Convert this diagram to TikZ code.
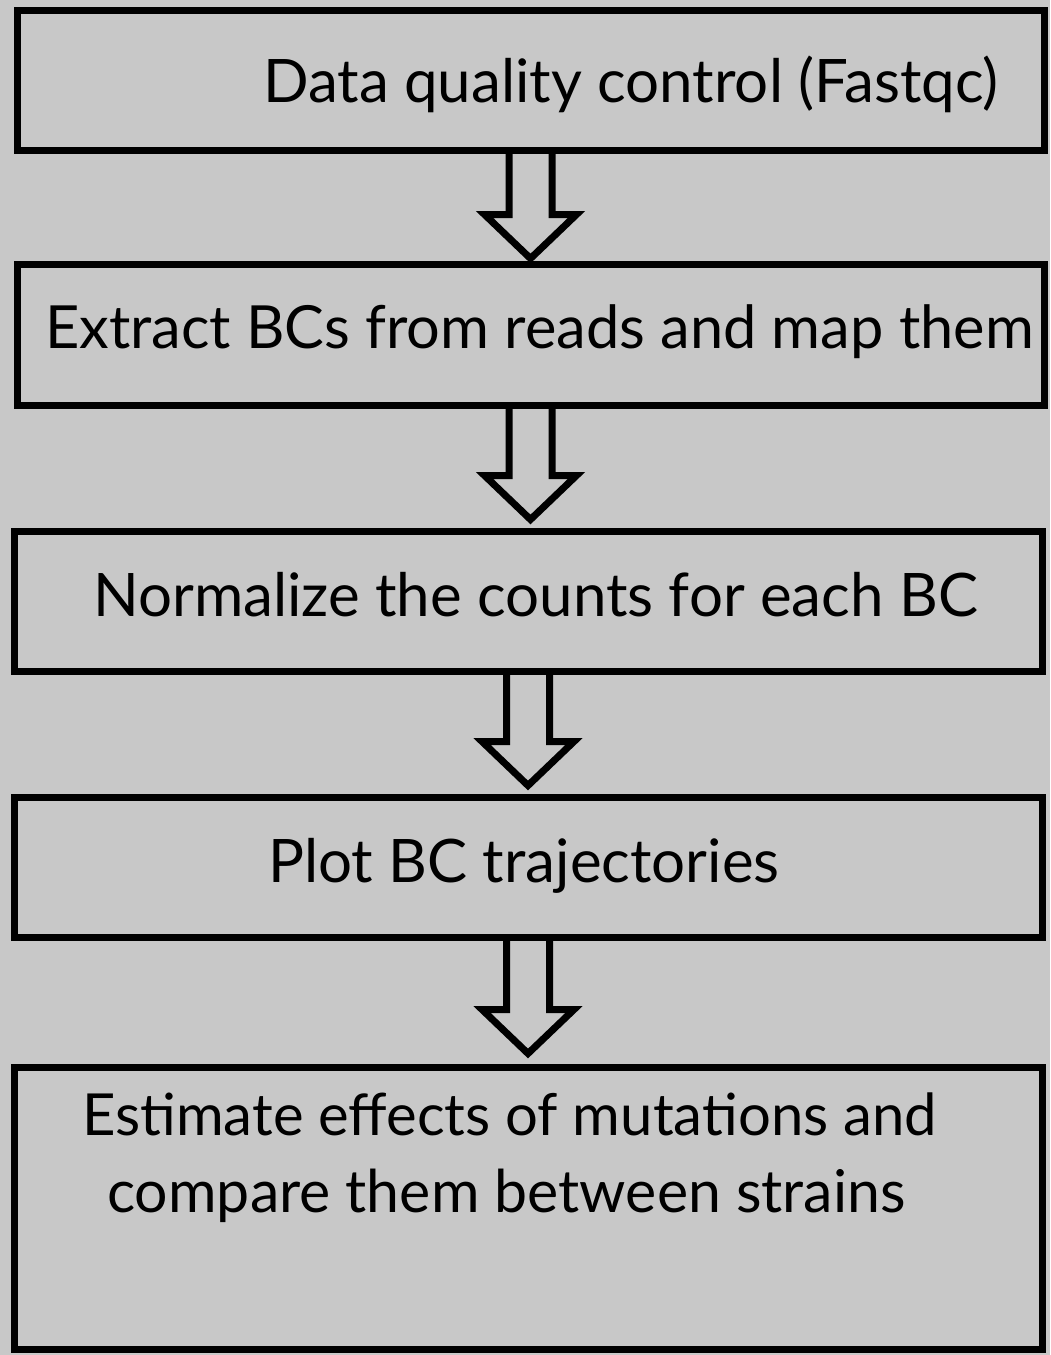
\documentclass[tikz,border=0pt]{standalone}
\usepackage{fontspec}
\setmainfont{Lato}
\usepackage{tikz}
\usetikzlibrary{calc}
\definecolor{bggray}{HTML}{C8C8C8}

\tikzset{
  box/.style={draw=black, line width=7pt, inner sep=0pt},
  txt/.style={anchor=base west, inner sep=0pt, font=\fontsize{60}{72}\selectfont},
  bigarrow/.style={draw=black, line width=7pt, line join=miter},
}
% hollow block arrow from the bottom of one box to the top of the next
\newcommand{\blockarrow}[3]{%
  \draw[bigarrow] let \p1=(#1.south), \p2=(#2.north) in
    (\x1-21.5,\y1) -- (\x1-21.5,\y2+#3+44) -- (\x1-46,\y2+#3+44) -- (\x1,\y2+#3)
    -- (\x1+46,\y2+#3+44) -- (\x1+21.5,\y2+#3+44) -- (\x1+21.5,\y1);}

\begin{document}
\begin{tikzpicture}[x=1pt, y=-1pt]
\fill[bggray] (0,0) rectangle (1050,1355);
\useasboundingbox (0,0) rectangle (1050,1355);
% the five steps
\node[box, minimum width=1027pt, minimum height=140pt] (qc)    at (530.5,80) {};
\node[box, minimum width=1027pt, minimum height=141pt] (bc)    at (530.5,334.5) {};
\node[box, minimum width=1028pt, minimum height=140pt] (norm)  at (528,601) {};
\node[box, minimum width=1028pt, minimum height=140pt] (traj)  at (528,867) {};
\node[box, minimum width=1028pt, minimum height=282pt] (est)   at (528,1208) {};
\node[txt] (qctxt)   at (263,102)  {Data quality control (Fastqc)};
\node[txt, font=\fontsize{59.5}{72}\selectfont] (bctxt) at (45,348) {Extract BCs from reads and map them};
\node[txt] (normtxt) at (93,616)   {Normalize the counts for each BC};
\node[txt] (trajtxt) at (268,882)  {Plot BC trajectories};
\node[txt, font=\fontsize{58}{72}\selectfont] (esttxta) at (82,1135)  {Estimate effects of mutations and};
\node[txt, font=\fontsize{59}{72}\selectfont] (esttxtb) at (107,1212) {compare them between strains};
% arrows
\blockarrow{qc}{bc}{2}
\blockarrow{bc}{norm}{8}
\blockarrow{norm}{traj}{8}
\blockarrow{traj}{est}{10}
\end{tikzpicture}
\end{document}
